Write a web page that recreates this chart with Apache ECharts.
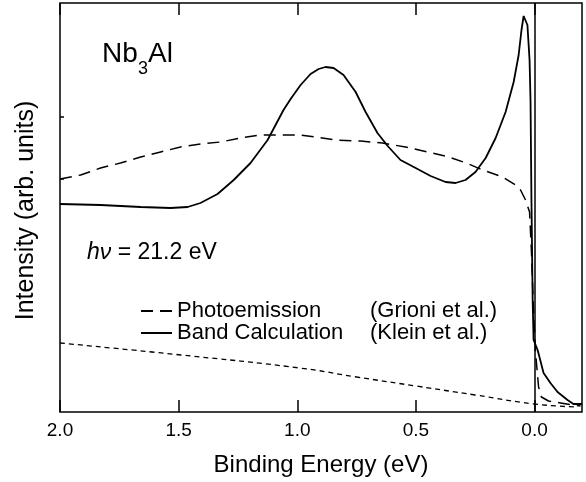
<!DOCTYPE html>
<html><head><meta charset="utf-8">
<script src="https://cdn.jsdelivr.net/npm/echarts@6/dist/echarts.min.js"></script>
<style>html,body{margin:0;padding:0;background:#fff}#c{width:586px;height:482px}</style>
</head><body><div id="c"></div>
<script>
// Band calculation (Klein et al.)
const bandEnergy = [2.0,1.829,1.660,1.534,1.462,1.408,1.336,1.268,1.197,1.125,1.058,1.028,0.986,0.944,0.910,0.881,0.847,0.805,0.754,0.712,0.662,0.619,0.565,0.501,0.438,0.375,0.333,0.291,0.249,0.206,0.164,0.122,0.088,0.067,0.055,0.046,0.038,0.030,0.021,0.017,0.013,0.008,0.004,-0.013,-0.038,-0.067,-0.097,-0.139,-0.164,-0.2];
const bandIntensity = [208,207,205,204,205,209,218,232,249,272,302,313,327,338,343,345,344,337,320,300,279,266,252,244,236,230,229,232,240,254,274,300,330,357,382,396,397,387,352,312,212,112,72,62,39,29,20,12,8,8];
// Photoemission (Grioni et al.)
const photoEnergy = [2.0,1.913,1.829,1.745,1.660,1.576,1.492,1.408,1.323,1.239,1.155,1.070,0.986,0.923,0.839,0.733,0.641,0.544,0.430,0.362,0.287,0.219,0.135,0.080,0.059,0.038,0.021,0.013,0.004,-0.004,-0.017,-0.029,-0.059,-0.110,-0.160,-0.194];
const photoIntensity = [233,237,244,249,255,260,265,268,270,274,277,277,277,275,272,271,269,265,259,255,249,242,235,227,222,212,200,160,100,60,25,15,11,9,7,6];
// Background
const bgEnergy = [2.0,1.49,0.99,0.75,0.50,0.25,0.0,-0.18];
const bgIntensity = [69,57,44,35,26,17,8,5];
// Ticks
const xTickValues = [2.0,1.5,1.0,0.5,0.0];
const yTickValues = [233,295];
const fermiLevel = [0.0];

const FONT = 'Liberation Sans, Arial, Helvetica, sans-serif';
const zip = (a,b) => a.map((v,i)=>[v,b[i]]);

const chart = echarts.init(document.getElementById('c'), null, {renderer:'canvas'});
chart.setOption({
  animation:false,
  backgroundColor:'#fff',
  textStyle:{fontFamily:FONT,color:'#000'},
  grid:{left:60,right:4,top:3,bottom:70,show:true,borderColor:'#000',borderWidth:1.5,backgroundColor:'transparent'},
  xAxis:[{
    type:'value',min:-0.2,max:2.0,inverse:true,position:'bottom',
    axisLine:{show:false,onZero:false},
    splitLine:{show:false},
    axisTick:{show:true,inside:true,length:12,customValues:xTickValues,lineStyle:{color:'#000',width:1.5}},
    axisLabel:{show:true,customValues:xTickValues,formatter:v=>v.toFixed(1),fontSize:19,color:'#000',fontFamily:FONT,margin:9},
    name:'Binding Energy (eV)',nameLocation:'middle',nameGap:41,
    nameTextStyle:{fontSize:24,color:'#000',fontFamily:FONT}
  },{
    type:'value',min:-0.2,max:2.0,inverse:true,position:'top',
    axisLine:{show:false,onZero:false},splitLine:{show:false},
    axisTick:{show:true,inside:true,length:12,customValues:xTickValues,lineStyle:{color:'#000',width:1.5}},
    axisLabel:{show:false}
  }],
  yAxis:{
    type:'value',min:0,max:409,position:'left',
    axisLine:{show:false,onZero:false},splitLine:{show:false},
    axisTick:{show:true,inside:true,length:4,customValues:yTickValues,lineStyle:{color:'#000',width:1.5}},
    axisLabel:{show:false},
    name:'Intensity (arb. units)',nameLocation:'middle',nameGap:21,
    nameTextStyle:{fontSize:25,color:'#000',fontFamily:FONT,padding:[0,0,0,-6]}
  },
  legend:{
    data:['Photoemission','Band Calculation'],
    orient:'vertical',left:140,top:300,padding:0,
    itemWidth:31,itemHeight:14,itemGap:0,
    itemStyle:{color:'rgba(0,0,0,0)',borderColor:'rgba(0,0,0,0)',borderWidth:0},
    textStyle:{fontSize:22,color:'#000',fontFamily:FONT,lineHeight:21,
      rich:{
        a:{width:193,fontSize:22,fontFamily:FONT,color:'#000',lineHeight:21},
        b:{fontSize:22,fontFamily:FONT,color:'#000',lineHeight:21}
      }},
    formatter:function(name){
      const ref = name==='Photoemission' ? '(Grioni et al.)' : '(Klein et al.)';
      return '{a|'+name+'}{b|'+ref+'}';
    },
    selectedMode:false
  },
  series:[{
    name:'Photoemission',type:'line',symbol:'none',smooth:false,
    data:zip(photoEnergy,photoIntensity),
    itemStyle:{color:'#000'},
    lineStyle:{color:'#000',width:1.5,type:[12,7]},
    z:3
  },{
    name:'Band Calculation',type:'line',symbol:'none',smooth:false,
    data:zip(bandEnergy,bandIntensity),
    itemStyle:{color:'#000'},
    lineStyle:{color:'#000',width:1.8,type:'solid'},
    z:4,
    markLine:{silent:true,symbol:['none','none'],label:{show:false},
      lineStyle:{color:'#000',width:1.5,type:'solid'},
      data:fermiLevel.map(v=>({xAxis:v}))}
  },{
    name:'Background',type:'line',symbol:'none',smooth:true,
    data:zip(bgEnergy,bgIntensity),
    itemStyle:{color:'#000'},
    lineStyle:{color:'#000',width:1.3,type:[5,4]},
    z:2
  }],
  graphic:[
    {type:'text',left:102,top:40,style:{text:'Nb',font:'28px '+FONT,fill:'#000'}},
    {type:'text',left:138,top:60,style:{text:'3',font:'18px '+FONT,fill:'#000'}},
    {type:'text',left:148,top:40,style:{text:'Al',font:'28px '+FONT,fill:'#000'}},
    {type:'text',left:87,top:241,style:{text:'{i|hν} = 21.2 eV',font:'23px '+FONT,fill:'#000',
      rich:{i:{fontStyle:'italic',fontSize:23,fontFamily:FONT,fill:'#000'}}}}
  ]
});
</script>
</body></html>
